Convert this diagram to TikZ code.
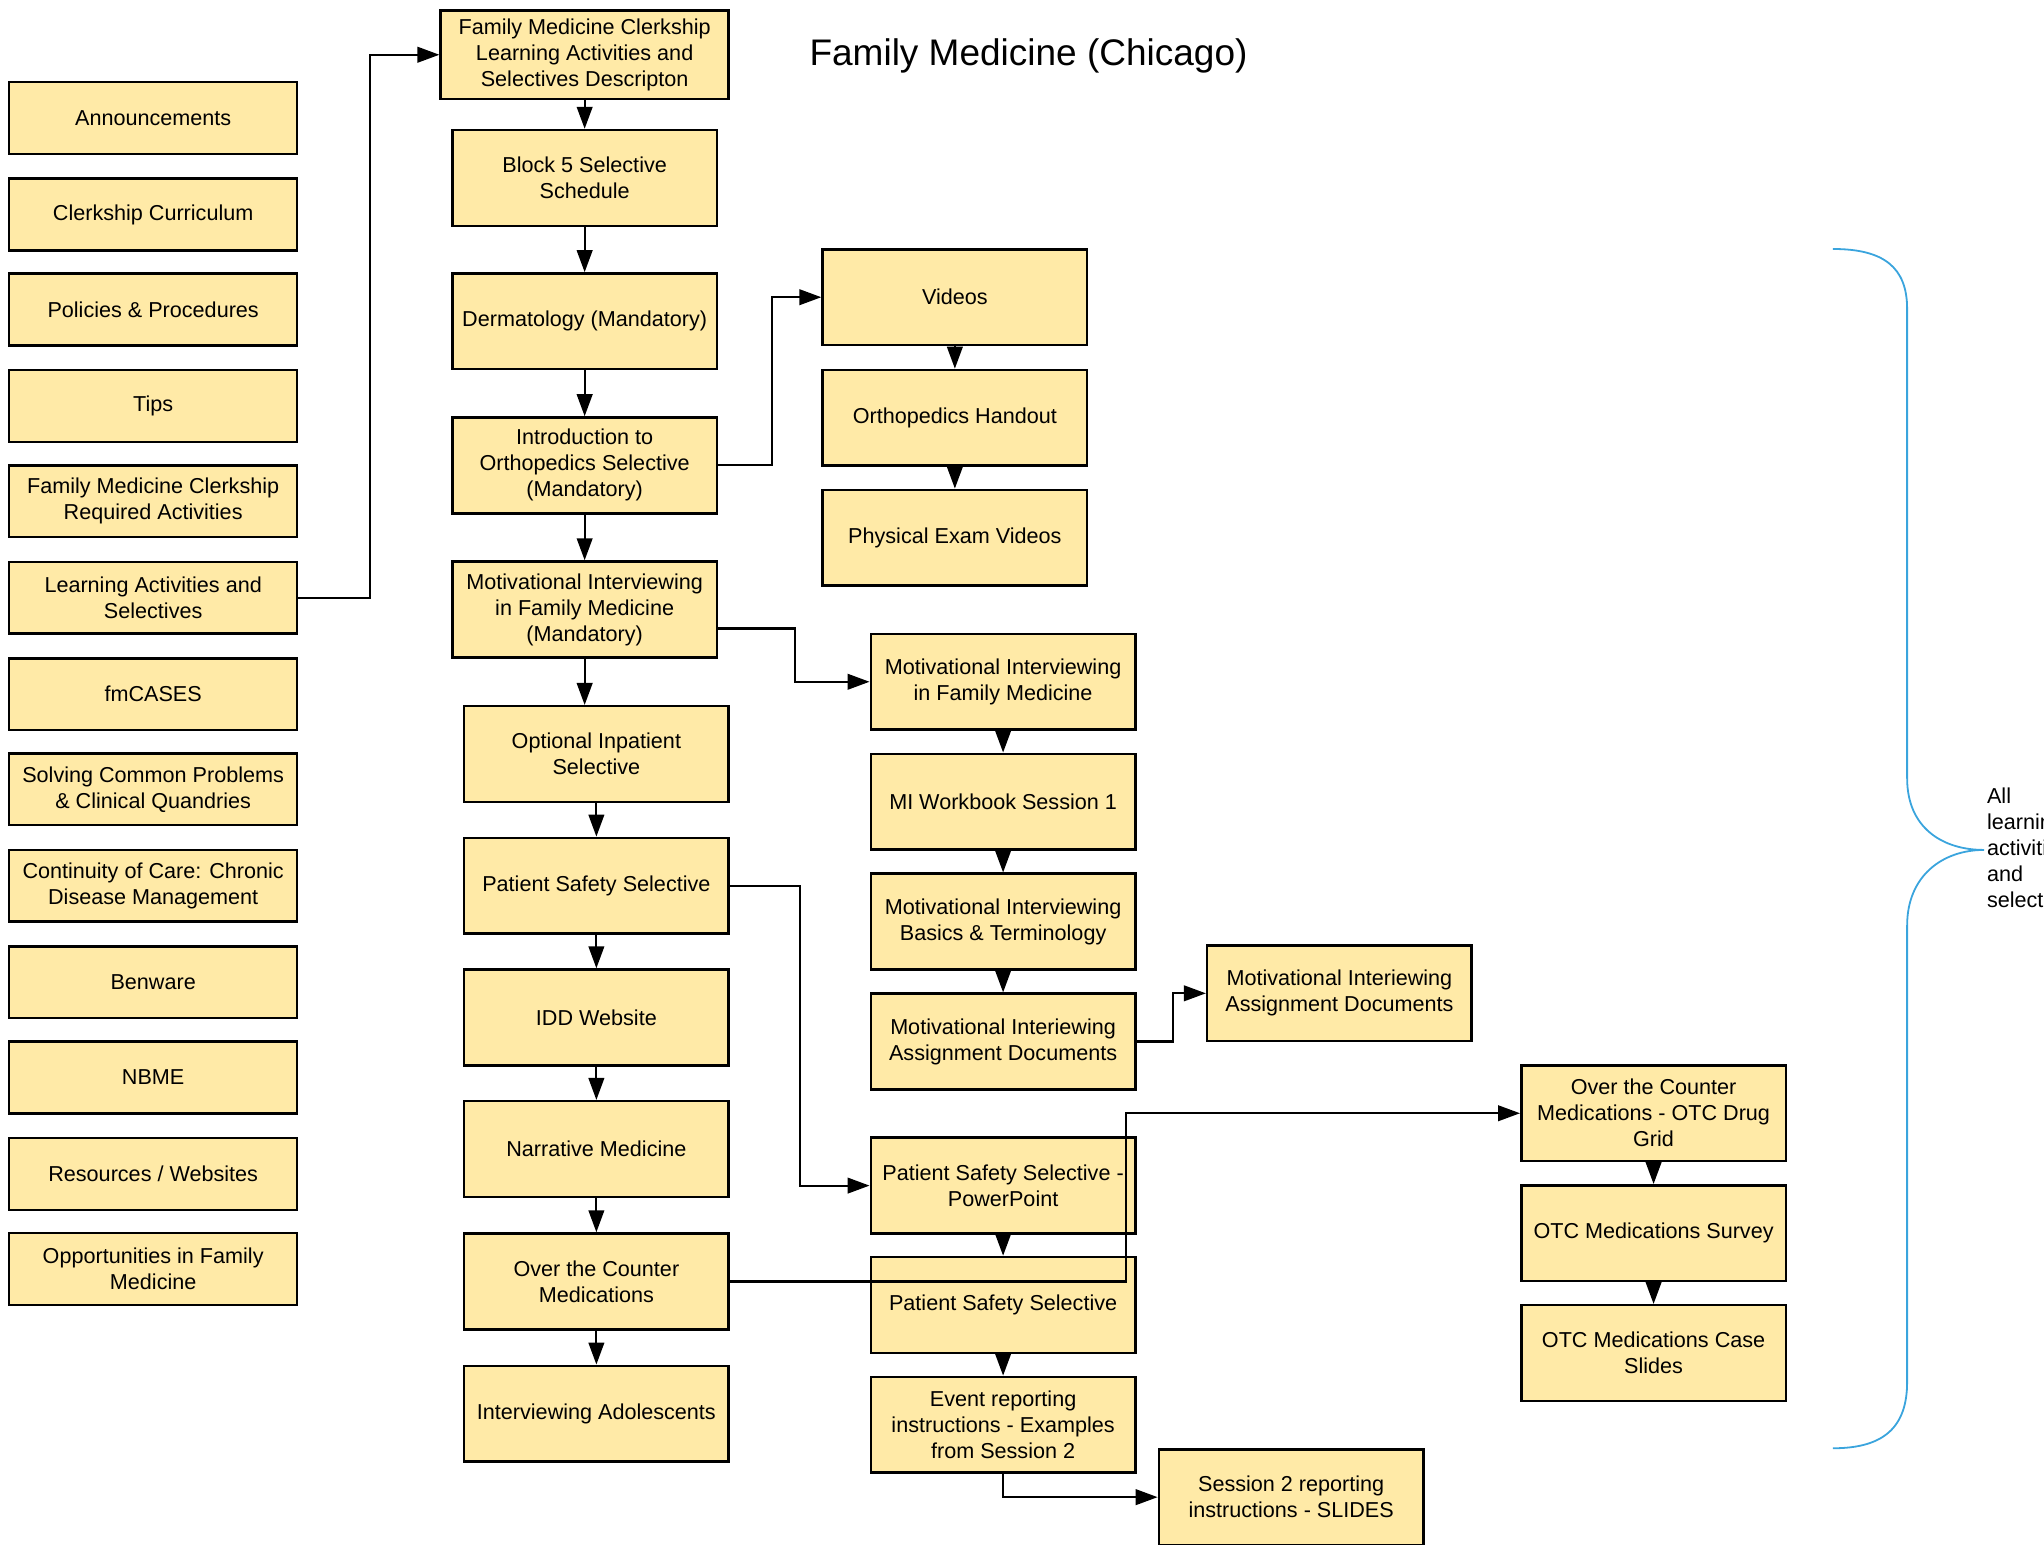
\documentclass[tikz,border=0pt]{standalone}
\usepackage{fontspec}
\setmainfont{Liberation Sans}
\usepackage{tikz}
\usetikzlibrary{arrows.meta}
\definecolor{boxfill}{RGB}{255,234,167}
\definecolor{bracecol}{RGB}{58,164,221}
\newcommand\boxfont{\fontsize{10.8}{13}\selectfont}
\tikzset{
  fmbox/.style={draw, fill=boxfill, line width=1.25pt, minimum width=132.3pt,
    minimum height=47.9pt, inner sep=0pt, align=center, font=\boxfont},
  menubox/.style={fmbox, minimum width=144pt, minimum height=35.9pt},
  arr/.style={line width=1.1pt, -{Triangle[length=11pt,width=7.8pt]}}
}

\begin{document}
\begin{tikzpicture}[x=0.6518pt, y=-0.6518pt]
            \useasboundingbox (0,0) rectangle (1568,1185);
            \node (title) at (789,43) {\fontsize{18.5}{22}\selectfont Family Medicine (Chicago)};
            \node[menubox] (ann) at (117.5,90.5) {Announcements};
            \node[menubox] (curr) at (117.5,164.5) {Clerkship Curriculum};
            \node[menubox] (pol) at (117.5,237.5) {Policies \& Procedures};
            \node[menubox] (tips) at (117.5,311.5) {Tips};
            \node[menubox] (req) at (117.5,384.5) {Family Medicine Clerkship\\Required Activities};
            \node[menubox] (learn) at (117.5,458.5) {Learning Activities and\\Selectives};
            \node[menubox] (fmc) at (117.5,532.5) {fmCASES};
            \node[menubox] (solve) at (117.5,605.5) {Solving Common Problems\\\& Clinical Quandries};
            \node[menubox] (cont) at (117.5,679.5) {Continuity of Care: Chronic\\Disease Management};
            \node[menubox] (ben) at (117.5,753.5) {Benware};
            \node[menubox] (nbme) at (117.5,826.5) {NBME};
            \node[menubox] (res) at (117.5,900.5) {Resources / Websites};
            \node[menubox] (opp) at (117.5,973.5) {Opportunities in Family\\Medicine};
            \node[fmbox, minimum width=144pt, minimum height=44.3pt] (desc) at (448.5,42) {Family Medicine Clerkship\\Learning Activities and\\Selectives Descripton};
            \node[fmbox] (block) at (448.5,136.5) {Block 5 Selective\\Schedule};
            \node[fmbox] (derm) at (448.5,246.5) {Dermatology (Mandatory)};
            \node[fmbox] (ortho) at (448.5,357) {Introduction to\\Orthopedics Selective\\(Mandatory)};
            \node[fmbox] (mi) at (448.5,467.5) {Motivational Interviewing\\in Family Medicine\\(Mandatory)};
            \node[fmbox] (inpt) at (457.5,578.5) {Optional Inpatient\\Selective};
            \node[fmbox] (safety) at (457.5,679.5) {Patient Safety Selective};
            \node[fmbox] (idd) at (457.5,780.5) {IDD Website};
            \node[fmbox] (narr) at (457.5,881.5) {Narrative Medicine};
            \node[fmbox] (otc) at (457.5,983) {Over the Counter\\Medications};
            \node[fmbox] (adol) at (457.5,1084.5) {Interviewing Adolescents};
            \node[fmbox] (vid) at (732.5,228) {Videos};
            \node[fmbox] (hand) at (732.5,320.5) {Orthopedics Handout};
            \node[fmbox] (pe) at (732.5,412.5) {Physical Exam Videos};
            \node[fmbox] (mifm) at (769.5,523) {Motivational Interviewing\\in Family Medicine};
            \node[fmbox] (wb) at (769.5,615) {MI Workbook Session 1};
            \node[fmbox] (basics) at (769.5,707) {Motivational Interviewing\\Basics \& Terminology};
            \node[fmbox] (assign) at (769.5,799) {Motivational Interiewing\\Assignment Documents};
            \node[fmbox] (assigndocs) at (1027.5,762) {Motivational Interiewing\\Assignment Documents};
            \node[fmbox] (ppt) at (769.5,909.5) {Patient Safety Selective -\\PowerPoint};
            \node[fmbox] (pss) at (769.5,1001) {Patient Safety Selective};
            \node[fmbox] (event) at (769.5,1093) {Event reporting\\instructions - Examples\\from Session 2};
            \node[fmbox] (slides) at (990.5,1148.5) {Session 2 reporting\\instructions - SLIDES};
            \node[fmbox] (grid) at (1268.5,854) {Over the Counter\\Medications - OTC Drug\\Grid};
            \node[fmbox] (survey) at (1268.5,946) {OTC Medications Survey};
            \node[fmbox] (case) at (1268.5,1038) {OTC Medications Case\\Slides};
            \node[right, align=left, inner sep=0pt, font=\boxfont] (all) at (1524,650) {All\\learning\\activities\\and\\selectives};
            \draw[arr] (learn.east) -- ++(55,0) |- (desc.west);
            \draw[arr] (desc) -- (block);
            \draw[arr] (block) -- (derm);
            \draw[arr] (derm) -- (ortho);
            \draw[arr] (ortho) -- (mi);
            \draw[arr] (mi.south) -- (mi.south |- inpt.north);
            \draw[arr] (inpt) -- (safety);
            \draw[arr] (safety) -- (idd);
            \draw[arr] (idd) -- (narr);
            \draw[arr] (narr) -- (otc);
            \draw[arr] (otc) -- (adol);
            \draw[arr] (ortho.east) -- ++(41,0) |- (vid.west);
            \draw[arr] (vid) -- (hand);
            \draw[arr] (hand) -- (pe);
            \draw[arr] ([yshift=-9.5pt]mi.east) -- ++(59,0) |- (mifm.west);
            \draw[arr] (mifm) -- (wb);
            \draw[arr] (wb) -- (basics);
            \draw[arr] (basics) -- (assign);
            \draw[arr] (assign.east) -- ++(28,0) |- (assigndocs.west);
            \draw[arr] (safety.east) -- ++(54,0) |- (ppt.west);
            \draw[arr] (ppt) -- (pss);
            \draw[arr] (pss) -- (event);
            \draw[arr] (event.south) |- (slides.west);
            \draw[arr] (otc.east) -- ++(304,0) |- (grid.west);
            \draw[arr] (grid) -- (survey);
            \draw[arr] (survey) -- (case);
            \draw[bracecol, line width=0.9pt] (1406,191) .. controls (1445,191) and (1463,205) .. (1463,237)
              -- (1463,597) .. controls (1463,635) and (1490,652) .. (1522,652)
              .. controls (1490,652) and (1463,672) .. (1463,710)
              -- (1463,1060) .. controls (1463,1095) and (1445,1111) .. (1406,1111);
        \end{tikzpicture}
\end{document}
